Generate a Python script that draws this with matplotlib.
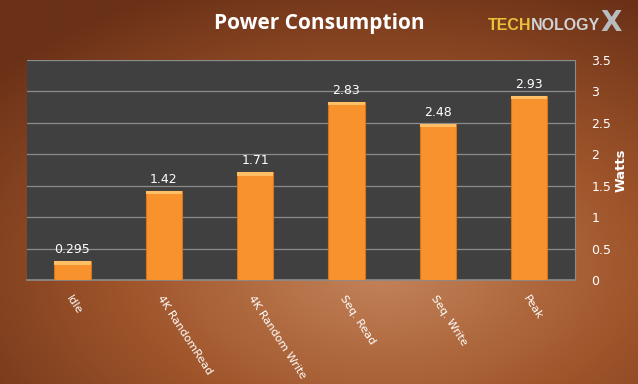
import matplotlib
matplotlib.use("Agg")
import matplotlib.pyplot as plt
import numpy as np
from matplotlib.colors import LinearSegmentedColormap

categories = ["Idle", "4K RandomRead", "4K Random Write", "Seq. Read", "Seq. Write", "Peak"]
watts = [0.295, 1.42, 1.71, 2.83, 2.48, 2.93]
value_labels = ["0.295", "1.42", "1.71", "2.83", "2.48", "2.93"]
yticks = [0, 0.5, 1, 1.5, 2, 2.5, 3, 3.5]
ytick_labels = ["0", "0.5", "1", "1.5", "2", "2.5", "3", "3.5"]

fig = plt.figure(figsize=(6.38, 3.84), dpi=100)

# brown radial background
bg = fig.add_axes([0, 0, 1, 1])
bg.set_axis_off()
xx, yy = np.meshgrid(np.linspace(0, 1, 320), np.linspace(0, 1, 192))
r = np.sqrt(((xx - 0.6) / 0.8) ** 2 + ((yy - 0.3) / 0.8) ** 2)
r = np.clip(r, 0, 1)
cmap = LinearSegmentedColormap.from_list("bgc", ["#c4845a", "#a0552b", "#6a3117"])
bg.imshow(r, cmap=cmap, origin="lower", extent=[0, 1, 0, 1], aspect="auto")
bg.set_xlim(0, 1)
bg.set_ylim(0, 1)

ax = fig.add_axes([0.042, 0.271, 0.859, 0.573])
ax.set_facecolor("#404040")
x = np.arange(len(categories))
ax.bar(x, watts, width=0.40, color="#f7922c", edgecolor="#d9741a", linewidth=0.8, zorder=3)
# lighter top cap on each bar
ax.bar(x, [0.05] * len(watts), bottom=np.array(watts) - 0.05, width=0.40,
       color="#ffbf66", edgecolor="none", zorder=4)

for xi, v, lab in zip(x, watts, value_labels):
    ax.text(xi, v + 0.08, lab, ha="center", va="bottom", color="white", fontsize=9, zorder=5)

ax.set_ylim(0, 3.5)
ax.set_xlim(-0.5, len(categories) - 0.5)
ax.set_yticks(yticks)
ax.set_yticklabels(ytick_labels)
ax.yaxis.tick_right()
ax.yaxis.set_label_position("right")
ax.tick_params(axis="y", colors="white", labelsize=9, length=0, pad=12)
ax.grid(axis="y", color="#8c8c8c", linewidth=0.9, zorder=1)
ax.set_ylabel("Watts", color="white", fontsize=9.5, fontweight="bold", labelpad=2)

ax.set_xticks(x)
ax.set_xticklabels(categories, rotation=-57, ha="left", va="top", rotation_mode="anchor",
                   color="white", fontsize=8)
ax.tick_params(axis="x", length=0, pad=10)

for side in ["top", "left"]:
    ax.spines[side].set_visible(False)
ax.spines["right"].set_color("#8c8c8c")
ax.spines["bottom"].set_color("#8c8c8c")
ax.spines["bottom"].set_linewidth(1.2)

fig.text(0.5, 0.94, "Power Consumption", ha="center", va="center", color="white",
         fontsize=15, fontweight="bold", family="Open Sans")

# logo text
fig.text(0.765, 0.933, "TECH", ha="left", va="center", color="#e8c23a",
         fontsize=11.5, fontweight="bold", family="Liberation Sans")
fig.text(0.832, 0.933, "NOLOGY", ha="left", va="center", color="#cfd3d6",
         fontsize=11.5, fontweight="bold", family="Liberation Sans")
fig.text(0.958, 0.94, "X", ha="center", va="center", color="#b8bcc0",
         fontsize=20, fontweight="bold", family="DejaVu Sans")

fig.savefig("out.png", dpi=100)
